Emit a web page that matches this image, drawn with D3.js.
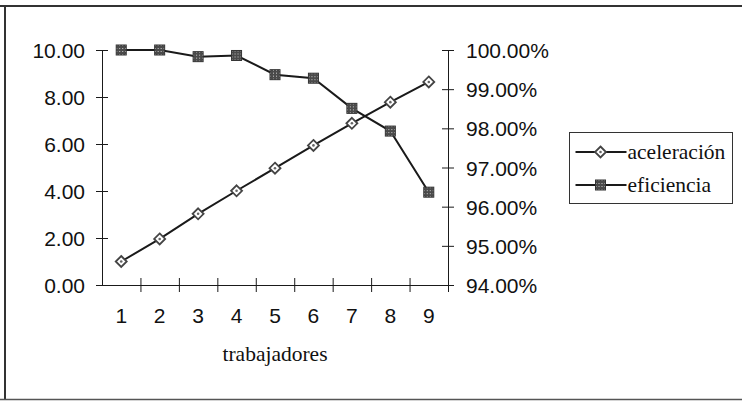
<!DOCTYPE html>
<html>
<head>
<meta charset="utf-8">
<script src="https://cdn.jsdelivr.net/npm/d3@7"></script>
<style>
  body { margin: 0; background: #fff; }
  svg { display: block; }
  .tick text { font-family: "Liberation Sans", Arial, sans-serif; font-size: 21px; fill: #111; }
  .serif { font-family: "Liberation Serif", "Times New Roman", serif; font-size: 21.5px; fill: #111; }
</style>
</head>
<body>
<svg id="chart" width="742" height="401"></svg>
<script>
// data
const trabajadores = [1, 2, 3, 4, 5, 6, 7, 8, 9];
const aceleracion = [1.00, 1.96, 3.03, 4.01, 4.97, 5.94, 6.88, 7.78, 8.64];
const eficiencia = [1.0000, 1.0000, 0.9983, 0.9986, 0.9937, 0.9928, 0.9851, 0.9793, 0.9637];
const leftTicks = [0, 2, 4, 6, 8, 10];
const rightTicks = [0.94, 0.95, 0.96, 0.97, 0.98, 0.99, 1.00];
const series = [
    {name: "aceleración", values: aceleracion, marker: "diamond"},
    {name: "eficiencia", values: eficiencia, marker: "square"}
];

const svg = d3.select("#chart");
const ink = "#1a1a1a";

// scanned page frame (no right edge visible)
svg.append("line").attr("x1", 0).attr("x2", 742).attr("y1", 6).attr("y2", 6)
    .attr("stroke", "#333").attr("stroke-width", 2);
svg.append("line").attr("x1", 5).attr("x2", 5).attr("y1", 6).attr("y2", 400)
    .attr("stroke", "#333").attr("stroke-width", 2);
svg.append("line").attr("x1", 0).attr("x2", 742).attr("y1", 399.5).attr("y2", 399.5)
    .attr("stroke", "#555").attr("stroke-width", 1.5);

const x0 = 102, x1 = 448, yTop = 50, yBot = 285;

const x = d3.scaleBand().domain(trabajadores).range([x0, x1]);
const xEdges = d3.scaleLinear().domain([0, trabajadores.length]).range([x0, x1]);
const yL = d3.scaleLinear().domain([0, 10]).range([yBot, yTop]);
const yR = d3.scaleLinear().domain([0.94, 1.00]).range([yBot, yTop]);

// pattern for the square marker
const defs = svg.append("defs");
const pat = defs.append("pattern").attr("id", "checker")
    .attr("width", 3).attr("height", 3).attr("patternUnits", "userSpaceOnUse");
pat.append("rect").attr("width", 3).attr("height", 3).attr("fill", "#4a4a4a");
pat.append("rect").attr("x", 1).attr("y", 1).attr("width", 1).attr("height", 1).attr("fill", "#ccc");

// crossing ticks: pull y1 back across the line
function cross(g) {
    g.select(".domain").attr("stroke", ink);
    g.selectAll(".tick line").attr("stroke", ink).each(function () {
        const l = d3.select(this);
        if (l.attr("x2") !== null && +l.attr("x2") !== 0) l.attr("x1", -(+l.attr("x2")));
        if (l.attr("y2") !== null && +l.attr("y2") !== 0) l.attr("y1", -(+l.attr("y2")));
    });
}

// left axis
svg.append("g").attr("transform", `translate(${x0},0)`)
    .call(d3.axisLeft(yL).tickValues(leftTicks).tickFormat(d3.format(".2f"))
        .tickSize(6).tickPadding(11).tickSizeOuter(0))
    .call(cross)
    .call(g => g.selectAll(".tick text").attr("dy", "0.36em"));

// right axis
svg.append("g").attr("transform", `translate(${x1},0)`)
    .call(d3.axisRight(yR).tickValues(rightTicks).tickFormat(d3.format(".2%"))
        .tickSize(6).tickPadding(12).tickSizeOuter(0))
    .call(cross)
    .call(g => g.selectAll(".tick text").attr("dy", "0.36em"));

// bottom axis: ticks on category boundaries
svg.append("g").attr("transform", `translate(0,${yBot})`)
    .call(d3.axisBottom(xEdges).tickValues(d3.range(1, trabajadores.length + 1)).tickFormat("")
        .tickSize(7).tickSizeOuter(0))
    .call(cross);

// category labels at band centres
svg.append("g").attr("transform", `translate(0,${yBot})`)
    .call(d3.axisBottom(x).tickSize(0).tickPadding(23))
    .call(g => g.select(".domain").remove());

svg.append("text").attr("class", "serif")
    .attr("x", (x0 + x1) / 2).attr("y", 361).attr("text-anchor", "middle")
    .text("trabajadores");

function drawMarker(g, type) {
    if (type === "diamond") {
        g.append("path").attr("d", "M0,-5.5L5.5,0L0,5.5L-5.5,0Z")
            .attr("fill", "#fff").attr("stroke", "#444").attr("stroke-width", 1.8);
        g.append("circle").attr("r", 1.3).attr("fill", "#666");
    } else {
        g.append("rect").attr("x", -5).attr("y", -5).attr("width", 10).attr("height", 10)
            .attr("fill", "url(#checker)").attr("stroke", "#333").attr("stroke-width", 1);
    }
}

const cx = d => x(d) + x.bandwidth() / 2;

series.forEach((s, si) => {
    const yScale = si === 0 ? yL : yR;
    const pts = trabajadores.map((t, i) => [cx(t), yScale(s.values[i])]);
    svg.append("path").attr("d", d3.line()(pts))
        .attr("fill", "none").attr("stroke", ink).attr("stroke-width", 2);
    svg.append("g").selectAll("g").data(pts).join("g")
        .attr("transform", d => `translate(${d[0]},${d[1]})`)
        .each(function () { drawMarker(d3.select(this), s.marker); });
});

// legend
const lg = svg.append("g").attr("transform", "translate(569.5,132.5)");
lg.append("rect").attr("width", 163).attr("height", 71)
    .attr("fill", "#fff").attr("stroke", "#333").attr("stroke-width", 1);
series.forEach((s, i) => {
    const ly = 19.5 + i * 33;
    lg.append("line").attr("x1", 6).attr("x2", 57).attr("y1", ly).attr("y2", ly)
        .attr("stroke", ink).attr("stroke-width", 1.8);
    drawMarker(lg.append("g").attr("transform", `translate(31,${ly})`), s.marker);
    lg.append("text").attr("class", "serif").attr("x", 58).attr("y", ly + 7).text(s.name);
});
</script>
</body>
</html>
